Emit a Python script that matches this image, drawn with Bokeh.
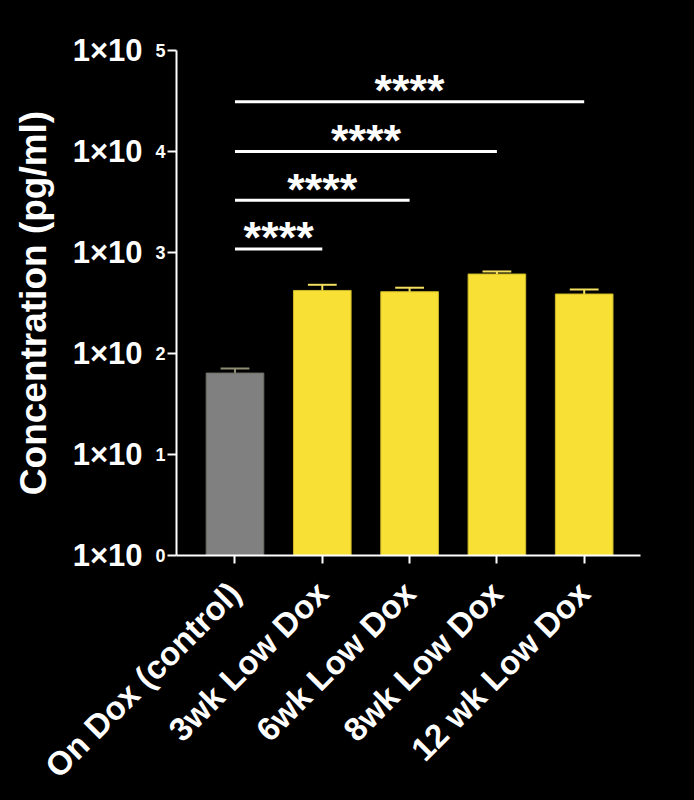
import math
from bokeh.plotting import figure
from bokeh.models import Range1d, FixedTicker, ColumnDataSource, LogAxis
from bokeh.core.properties import value
from bokeh.embed import file_html
from bokeh.resources import INLINE

# ---- data ----
groups = ["On Dox (control)", "3wk Low Dox", "6wk Low Dox", "8wk Low Dox", "12 wk Low Dox"]
means = [64, 421, 409, 612, 388]
sems = [7, 58, 39, 37, 43]
bar_colors = ["#808080", "#f9e034", "#f9e034", "#f9e034", "#f9e034"]
bar_edges = ["#6e6e66", "#cdb92a", "#cdb92a", "#cdb92a", "#cdb92a"]
err_colors = ["#8d8d74", "#f3df5e", "#f3df5e", "#f3df5e", "#f3df5e"]

y_ticks = [1, 10, 100, 1000, 10000, 100000]
y_tick_base = ["1×10", "1×10", "1×10", "1×10", "1×10", "1×10"]
y_tick_exp = ["0", "1", "2", "3", "4", "5"]

sig_from = [0, 0, 0, 0]
sig_to = [4, 3, 2, 1]
sig_y = [31000, 10000, 3300, 1085]
sig_text = ["****", "****", "****", "****"]

FONT = "Liberation Sans"

xs = list(range(len(groups)))
bar_width = 0.66
cap_half = 0.165

src = ColumnDataSource(dict(
    x=xs,
    mean=means,
    err_top=[m + s for m, s in zip(means, sems)],
    cap_l=[x - cap_half for x in xs],
    cap_r=[x + cap_half for x in xs],
    color=bar_colors,
    edge=bar_edges,
    ecolor=err_colors,
))

x_start, x_end = -0.67, 4.645
p = figure(
    width=678, height=792,
    x_range=Range1d(x_start, x_end),
    y_range=Range1d(1, 1e5),
    y_axis_type="log",
    output_backend="svg",
    toolbar_location=None,
    min_border_left=168, min_border_right=46,
    min_border_top=42, min_border_bottom=244,
    background_fill_color="black",
    border_fill_color="black",
    outline_line_color=None,
)
p.xgrid.visible = False
p.ygrid.visible = False

# bars
p.vbar(x="x", top="mean", bottom=1, width=bar_width, fill_color="color",
       line_color="edge", line_width=1, source=src)
# error bars
p.segment(x0="x", y0="mean", x1="x", y1="err_top", line_color="ecolor",
          line_width=2, source=src)
p.segment(x0="cap_l", y0="err_top", x1="cap_r", y1="err_top", line_color="ecolor",
          line_width=2, source=src)

# significance brackets
sig_mid = [(a + b) / 2 for a, b in zip(sig_from, sig_to)]
sig_src = ColumnDataSource(dict(x0=sig_from, x1=sig_to, y=sig_y, mid=sig_mid, t=sig_text))
p.segment(x0="x0", y0="y", x1="x1", y1="y", line_color="white", line_width=3,
          source=sig_src)
p.text(x="mid", y="y", text="t", source=sig_src, text_color="white",
       text_font=value(FONT), text_font_style="bold", text_font_size="45px",
       text_align="center", text_baseline="alphabetic", y_offset=-11)

# x axis
xa = p.xaxis[0]
xa.ticker = FixedTicker(ticks=xs)
xa.major_label_overrides = {x: g for x, g in zip(xs, groups)}
xa.major_label_orientation = math.pi / 4
xa.major_label_text_font = FONT
xa.major_label_text_font_style = "bold"
xa.major_label_text_font_size = "33px"
xa.major_label_text_color = "white"
xa.major_label_standoff = 24
xa.axis_line_color = "white"
xa.axis_line_width = 2
xa.major_tick_line_color = "white"
xa.major_tick_line_width = 2
xa.major_tick_out = 8
xa.major_tick_in = 0
xa.minor_tick_line_color = None

# inner y axis: line, ticks and the exponents of the tick labels
ya = p.yaxis[0]
ya.ticker = FixedTicker(ticks=y_ticks, minor_ticks=[])
ya.major_label_overrides = {t: e for t, e in zip(y_ticks, y_tick_exp)}
ya.major_label_text_font = FONT
ya.major_label_text_font_style = "bold"
ya.major_label_text_font_size = "18px"
ya.major_label_text_color = "white"
ya.major_label_standoff = 2
ya.axis_line_color = "white"
ya.axis_line_width = 2
ya.major_tick_line_color = "white"
ya.major_tick_line_width = 2
ya.major_tick_out = 9
ya.major_tick_in = 0
ya.minor_tick_line_color = None

# outer y axis: mantissa part of the tick labels and axis title
yb = LogAxis(ticker=FixedTicker(ticks=y_ticks, minor_ticks=[]))
yb.major_label_overrides = {t: b for t, b in zip(y_ticks, y_tick_base)}
yb.major_label_text_font = FONT
yb.major_label_text_font_style = "bold"
yb.major_label_text_font_size = "31px"
yb.major_label_text_color = "white"
yb.major_label_standoff = 10
yb.axis_line_color = None
yb.major_tick_line_color = None
yb.minor_tick_line_color = None
yb.major_tick_out = 0
yb.major_tick_in = 0
yb.axis_label = "Concentration (pg/ml)"
yb.axis_label_text_font = FONT
yb.axis_label_text_font_style = "bold"
yb.axis_label_text_font_size = "37px"
yb.axis_label_text_color = "white"
yb.axis_label_standoff = 16
p.add_layout(yb, "left")

html = file_html(p, INLINE, title="chart")
html = html.replace("</head>", "<style>html{background:#000}body{background:#000;margin:8px;overflow:hidden}</style></head>")
open("out.html", "w").write(html)
